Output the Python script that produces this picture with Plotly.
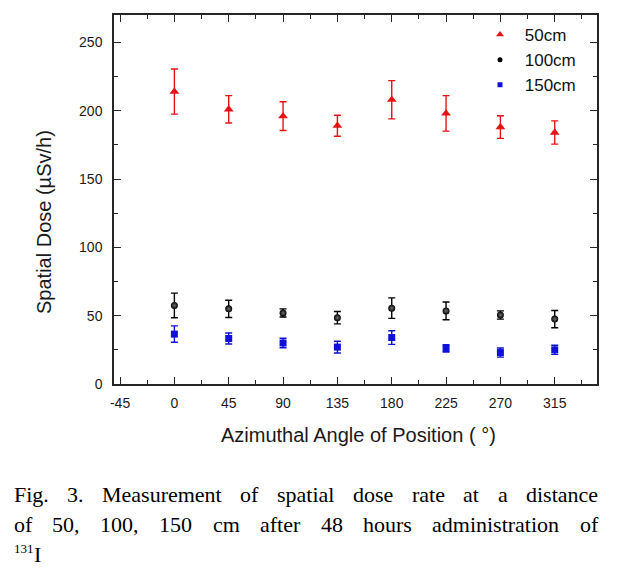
import plotly.graph_objects as go

# ---------------- data ----------------
angles = [0, 45, 90, 135, 180, 225, 270, 315]
dose_50 = [214, 201, 196, 189, 208, 198, 188, 184]
err_50 = [16.5, 10, 10.5, 7.7, 14, 13, 8.3, 8.5]
dose_100 = [57.5, 55, 52, 48.5, 55.5, 53.5, 50.5, 47.5]
err_100 = [9, 6.3, 3, 4.5, 7.5, 6.5, 3, 6.3]
dose_150 = [36.5, 33.3, 30, 27, 34, 26, 23, 25]
err_150 = [6, 4, 3.5, 4.3, 5, 2.7, 3.3, 3.3]
series_names = ["50cm", "100cm", "150cm"]
x_ticks = [-45, 0, 45, 90, 135, 180, 225, 270, 315]
y_ticks = [0, 50, 100, 150, 200, 250]

# ---------------- layout constants ----------------
W, H = 618, 572
L, R, T, B = 114, 21, 15, 188
PW, PH = W - L - R, H - T - B

def px2x(px):
    return (px - L) / PW

def px2y(py):
    return (T + PH - py) / PH

SANS = "Liberation Sans, Arial, sans-serif"
SERIF = "Liberation Serif, Times New Roman, serif"
RED = "#e31414"
BLACK = "#000000"
BLUE = "#1010d8"
AXC = "#262626"

fig = go.Figure()

def add_series(y, e, name, color, symbol, size, gradient=None):
    marker = dict(color=color, symbol=symbol, size=size, line=dict(width=0))
    if gradient:
        marker["gradient"] = dict(type="radial", color=gradient)
    fig.add_trace(go.Scatter(
        x=angles, y=y, mode="markers", name=name, showlegend=False,
        marker=marker,
        error_y=dict(type="data", array=e, visible=True, color=color,
                     thickness=1.4, width=3.5),
    ))

add_series(dose_50, err_50, series_names[0], RED, "triangle-up", 8.5)
add_series(dose_100, err_100, series_names[1], BLACK, "circle", 7, "#707070")
add_series(dose_150, err_150, series_names[2], BLUE, "square", 7)

# legend-only entries (smaller symbols as in reference)
for name, color, symbol, size in [(series_names[0], RED, "triangle-up", 7),
                                  (series_names[1], BLACK, "circle", 5),
                                  (series_names[2], BLUE, "square", 5)]:
    fig.add_trace(go.Scatter(x=[None], y=[None], mode="markers",
                             name="\u00a0" + name,
                             marker=dict(color=color, symbol=symbol, size=size)))

axis_common = dict(
    showline=True, linecolor=AXC, linewidth=1.5, mirror="ticks",
    ticks="inside", ticklen=7, tickwidth=1.2, tickcolor=AXC,
    showgrid=False, zeroline=False,
    tickfont=dict(family=SANS, size=14, color="#1a1a1a"),
)

fig.update_xaxes(range=[-50, 350], tickmode="array", tickvals=x_ticks,
                 ticktext=[str(v) for v in x_ticks], ticklabelstandoff=5,
                 minor=dict(ticks="inside", ticklen=4, tickwidth=1.2,
                            tickcolor=AXC, tick0=-22.5, dtick=45),
                 **axis_common)
fig.update_yaxes(range=[0, 270], tickmode="array", tickvals=y_ticks,
                 ticktext=[str(v) for v in y_ticks], ticklabelstandoff=7,
                 minor=dict(ticks="inside", ticklen=4, tickwidth=1.2,
                            tickcolor=AXC, tick0=25, dtick=50),
                 **axis_common)

annotations = []
# axis titles
annotations.append(dict(text="Azimuthal Angle of Position ( °)", xref="paper", yref="paper",
                        x=px2x(358), y=px2y(435), xanchor="center",
                        yanchor="middle", showarrow=False,
                        font=dict(family=SANS, size=20, color="#1a1a1a")))
annotations.append(dict(text="Spatial Dose (µSv/h)", xref="paper", yref="paper",
                        x=px2x(44), y=px2y(222), xanchor="center", yanchor="middle",
                        textangle=-90, showarrow=False,
                        font=dict(family=SANS, size=20, color="#1a1a1a")))

# caption with justified lines
TIMES_W = {" ": 250, ".": 250, ",": 250, "F": 556, "M": 889, "I": 333,
           "a": 444, "c": 444, "d": 500, "e": 444, "f": 333, "g": 500, "h": 500,
           "i": 278, "l": 278, "m": 778, "n": 500, "o": 500, "p": 500, "r": 333,
           "s": 389, "t": 278, "u": 500}
for dgt in "0123456789":
    TIMES_W[dgt] = 500

def tw(s, size):
    return sum(TIMES_W.get(c, 500) for c in s) / 1000.0 * size

CAP_SIZE = 22
caption_lines = [("Fig. 3. Measurement of spatial dose rate at a distance", 501.7),
                 ("of 50, 100, 150 cm after 48 hours administration of", 532.3)]
CAP_LEFT, CAP_RIGHT = 12.7, 597.0
for line, base in caption_lines:
    words = line.split(" ")
    total = sum(tw(w, CAP_SIZE) for w in words)
    gap = (CAP_RIGHT - CAP_LEFT - total) / (len(words) - 1)
    xpos = CAP_LEFT
    for w in words:
        annotations.append(dict(text=w, xref="paper", yref="paper",
                                x=px2x(xpos - 1), y=px2y(base - 0.3375 * CAP_SIZE),
                                xanchor="left", yanchor="middle", showarrow=False,
                                font=dict(family=SERIF, size=CAP_SIZE, color="#000")))
        xpos += tw(w, CAP_SIZE) + gap

# last line: superscript 131 + I
annotations.append(dict(text="131", xref="paper", yref="paper",
                        x=px2x(12.7 - 1), y=px2y(553 - 0.3375 * 13),
                        xanchor="left", yanchor="middle", showarrow=False,
                        font=dict(family=SERIF, size=13, color="#000")))
annotations.append(dict(text="I", xref="paper", yref="paper",
                        x=px2x(32.7 - 1), y=px2y(562.3 - 0.3375 * CAP_SIZE),
                        xanchor="left", yanchor="middle", showarrow=False,
                        font=dict(family=SERIF, size=CAP_SIZE, color="#000")))

fig.update_layout(
    width=W, height=H,
    margin=dict(l=L, r=R, t=T, b=B, pad=0),
    paper_bgcolor="white", plot_bgcolor="white",
    showlegend=True,
    legend=dict(x=px2x(480), y=px2y(17), xanchor="left", yanchor="top",
                bgcolor="rgba(0,0,0,0)", borderwidth=0,
                font=dict(family=SANS, size=17, color="#111"),
                itemwidth=30, tracegroupgap=0),
    annotations=annotations,
)

fig.write_html("out.html", config={"displayModeBar": False},
               post_script="document.body.style.margin='0px';")
